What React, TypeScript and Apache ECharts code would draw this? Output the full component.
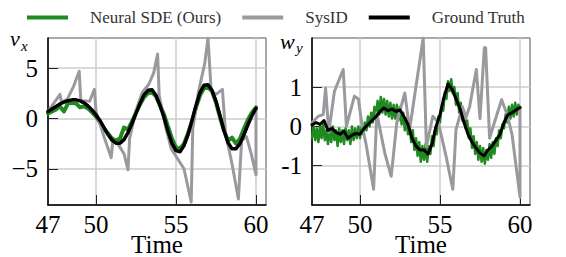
import React, { useEffect, useRef } from "react";
import * as echarts from "echarts";

const legendNames = ["Neural SDE (Ours)", "SysID", "Ground Truth"];
const xTickValues = [47, 50, 55, 60];
const xGridValues = [50, 55, 60];
const leftYTicks = [-5, 0, 5];
const rightYTicks = [-1, 0, 1];

// Left panel (v_x), sampled every 0.25 from 47 to 60
const vxTruth = [
  0.7, 0.95, 1.2, 1.45, 1.62, 1.77, 1.85, 1.85, 1.75, 1.55, 1.25, 0.85, 0.35,
  -0.2, -0.9, -1.6, -2.15, -2.45, -2.45, -2.1, -1.4, -0.5, 0.5, 1.5, 2.35, 2.8,
  2.85, 2.3, 1.3, 0.1, -1.3, -2.5, -3.2, -3.3, -2.7, -1.6, -0.2, 1.3, 2.6, 3.3,
  3.35, 2.8, 1.7, 0.3, -1.2, -2.4, -3.0, -3.0, -2.5, -1.6, -0.6, 0.3, 1.0,
];
const vxNeural = [
  0.5, 0.7, 0.9, 1.2, 0.7, 1.5, 1.55, 1.5, 1.1, 1.2, 1.0, 0.6, 0.2, -0.4, -1.0,
  -1.5, -2.0, -2.2, -2.0, -0.9, -1.1, -0.3, 0.6, 1.4, 2.1, 2.5, 2.6, 2.2, 1.3,
  0.4, -0.8, -2.0, -2.9, -3.0, -2.5, -1.5, -0.3, 1.1, 2.3, 3.0, 3.1, 2.7, 1.6,
  0.1, -1.2, -2.2, -1.9, -2.5, -2.0, -1.0, -0.1, 0.6, 1.1,
];
const vxSysId: [number, number][] = [
  [47, 0.7], [47.4, 1.6], [47.75, 2.4], [47.85, 1.6], [48.2, 1.9], [48.6, 3.2],
  [48.95, 4.7], [49.05, 1.8], [49.6, 1.7], [49.9, 2.9], [50.0, 0.7],
  [50.5, -1.8], [50.95, -3.9], [51.05, -2.2], [51.4, -2.6], [51.75, -3.5],
  [52.0, -5.1], [52.1, -2.0], [52.5, 0.8], [52.9, 2.6], [53.3, 3.4],
  [53.6, 4.5], [53.85, 6.4], [53.95, 2.3], [54.3, -0.5], [54.7, -3.0],
  [55.1, -4.0], [55.5, -5.0], [55.95, -8.3], [56.05, -1.0], [56.4, 2.6],
  [56.8, 5.5], [57.0, 8.0], [57.2, 2.7], [57.5, 2.4], [57.9, 2.9],
  [58.1, -1.5], [58.5, -4.5], [58.9, -8.0], [59.1, -2.2], [59.4, -1.8],
  [59.7, -3.5], [60.0, -5.6], [60.0, 1.0],
];

// Right panel (w_y)
const wyTruth = [
  0.04, 0.1, 0.05, 0.15, -0.1, -0.05, -0.15, -0.2, -0.12, -0.3, -0.22, -0.18,
  -0.2, -0.05, 0.05, 0.15, 0.25, 0.38, 0.47, 0.4, 0.44, 0.38, 0.42, 0.25, 0.05,
  -0.3, -0.5, -0.6, -0.6, -0.7, -0.45, 0.0, 0.3, 0.75, 1.08, 0.95, 0.7, 0.45,
  0.1, -0.2, -0.4, -0.55, -0.68, -0.75, -0.6, -0.5, -0.35, -0.2, 0.1, 0.3, 0.35,
  0.42, 0.48,
];
// sampled every 0.1 from 47 to 60
const wyNeural = [
  -0.3, 0.0, -0.35, -0.05, -0.4, 0.0, -0.3, 0.05, -0.35, -0.1,
  -0.45, -0.05, -0.4, 0.0, -0.35, -0.1, -0.5, -0.05, -0.4, -0.1,
  -0.45, -0.05, -0.35, -0.1, -0.45, 0.0, -0.35, -0.05, -0.3, 0.0,
  -0.3, 0.0, -0.2, 0.1, -0.1, 0.25, 0.0, 0.35, 0.1, 0.5,
  0.2, 0.65, 0.3, 0.75, 0.35, 0.7, 0.3, 0.65, 0.25, 0.6,
  0.2, 0.55, 0.2, 0.55, 0.15, 0.5, 0.05, 0.35, -0.1, 0.2,
  -0.2, 0.05, -0.4, -0.1, -0.6, -0.3, -0.75, -0.4, -0.9, -0.5,
  -0.85, -0.45, -0.9, -0.5, -0.7, -0.25, -0.5, -0.05, -0.2, 0.25,
  0.1, 0.5, 0.4, 0.85, 0.7, 1.15, 0.9, 1.2, 0.85, 1.0,
  0.55, 0.85, 0.35, 0.6, 0.15, 0.4, -0.05, 0.15, -0.3, -0.05,
  -0.55, -0.25, -0.7, -0.4, -0.85, -0.5, -0.9, -0.55, -0.95, -0.6,
  -0.85, -0.45, -0.8, -0.4, -0.7, -0.3, -0.5, -0.1, -0.3, 0.05,
  -0.05, 0.3, 0.1, 0.5, 0.2, 0.55, 0.25, 0.6, 0.3, 0.55,
  0.45,
];
const wySysId: [number, number][] = [
  [47, 0.1], [47.4, 0.26], [47.7, 0.3], [47.85, 0.98], [48.05, -0.15],
  [48.4, 0.89], [48.95, 1.45], [49.15, 0.0], [49.65, 0.77], [49.9, 0.7],
  [50.1, 0.1], [50.4, -0.5], [50.85, -1.6], [51.05, 0.34], [51.55, -0.68],
  [51.95, -1.27], [52.3, 0.1], [52.8, 0.85], [53.1, -0.08], [53.5, 1.02],
  [53.95, 2.25], [54.15, -0.51], [54.55, 0.26], [54.9, 0.1], [55.4, -0.8],
  [55.8, -1.6], [56.0, -0.08], [56.4, 0.5], [56.6, 0.2], [56.85, 0.5],
  [57.27, 1.45], [57.5, 0.2], [57.77, 2.0], [57.85, 2.0], [58.1, -0.3],
  [58.4, 0.1], [58.85, 0.68], [59.2, 0.3], [59.5, -0.2], [60.0, -1.8],
  [60.0, 0.5],
];

const stepTimes = (start: number, step: number, n: number) =>
  Array.from({ length: n }, (_, i) => +(start + i * step).toFixed(3));
const zip = (ts: number[], vs: number[]) => vs.map((v, i) => [ts[i], v]);

const GREEN = "#1f8a1f";
const GRAY = "#9a9a9e";
const BLACK = "#000000";
const SERIF = "Liberation Serif";

export default function App() {
  const ref = useRef<HTMLDivElement>(null);
  useEffect(() => {
    if (!ref.current) return;
    const chart = echarts.init(ref.current, undefined, { renderer: "svg" });
    const t25 = stepTimes(47, 0.25, vxTruth.length);
    const t10 = stepTimes(47, 0.1, wyNeural.length);

    const grids = [
      { left: 48, top: 38, width: 218, height: 167 },
      { left: 312, top: 38, width: 218, height: 167 },
    ].map((g) => ({
      ...g,
      show: true,
      borderColor: "#555",
      borderWidth: 1,
      containLabel: false,
      outerBoundsMode: "none",
    }));

    const makeX = (gi: number) => ({
      type: "value",
      gridIndex: gi,
      min: 47,
      max: 60.625,
      name: "Time",
      nameLocation: "middle",
      nameGap: 30,
      nameMoveOverlap: false,
      nameTextStyle: { fontFamily: SERIF, fontSize: 25, lineHeight: 18, color: "#000" },
      axisLine: { show: true, onZero: false, lineStyle: { color: "#000", width: 1.5 } },
      axisTick: {
        show: true,
        inside: true,
        length: 10,
        customValues: xGridValues,
        lineStyle: { color: "#222", width: 1 },
      },
      axisLabel: {
        customValues: xTickValues,
        fontFamily: SERIF,
        fontSize: 25,
        lineHeight: 18,
        color: "#000",
        margin: 10.5,
      },
      splitLine: { show: true, lineStyle: { color: "#cccccc", width: 1.5 } },
    });

    const makeY = (gi: number, min: number, max: number, ticks: number[], minusSign: boolean) => ({
      type: "value",
      gridIndex: gi,
      min,
      max,
      axisLine: { show: true, onZero: false, lineStyle: { color: "#000", width: 1.5 } },
      axisTick: {
        show: true,
        inside: true,
        length: 10,
        customValues: ticks,
        lineStyle: { color: "#222", width: 1 },
      },
      axisLabel: {
        customValues: ticks,
        fontFamily: SERIF,
        fontSize: 25,
        color: "#000",
        margin: 10,
        formatter: (v: number) =>
          v < 0 ? (minusSign ? "\u2212" : "-") + Math.abs(v) : String(v),
      },
      splitLine: { show: true, lineStyle: { color: "#cccccc", width: 1.5 } },
    });

    const line = (name: string, gi: number, data: any, color: string, width: number, z: number) => ({
      type: "line",
      name,
      xAxisIndex: gi,
      yAxisIndex: gi,
      data,
      showSymbol: false,
      symbol: "none",
      color,
      z,
      lineStyle: { color, width, join: "round", cap: "round" },
    });

    chart.setOption({
      animation: false,
      legend: {
        left: 22,
        top: 4,
        itemWidth: 41,
        itemHeight: 4,
        itemGap: 21,
        icon: "rect",
        data: legendNames,
        textStyle: {
          fontFamily: SERIF,
          fontSize: 17,
          color: "#333",
          padding: [0, 0, 0, 17],
        },
      },
      grid: grids,
      xAxis: [makeX(0), makeX(1)],
      yAxis: [
        makeY(0, -8.6, 8, leftYTicks, true),
        makeY(1, -2, 2.25, rightYTicks, false),
      ],
      series: [
        line(legendNames[0], 0, zip(t25, vxNeural), GREEN, 4, 2),
        line(legendNames[1], 0, vxSysId, GRAY, 3, 3),
        line(legendNames[2], 0, zip(t25, vxTruth), BLACK, 3.5, 4),
        line(legendNames[0], 1, zip(t10, wyNeural), GREEN, 2.5, 2),
        line(legendNames[1], 1, wySysId, GRAY, 3, 3),
        line(legendNames[2], 1, zip(t25, wyTruth), BLACK, 3, 4),
      ],
      graphic: [
        { type: "text", x: 10, y: 38.5, style: { text: "v", fontFamily: SERIF, fontStyle: "italic", fontSize: 22, fill: "#000", verticalAlign: "middle" } },
        { type: "text", x: 21, y: 45.5, style: { text: "x", fontFamily: SERIF, fontStyle: "italic", fontSize: 15, fill: "#000", verticalAlign: "middle" } },
        { type: "text", x: 280, y: 41.7, style: { text: "w", fontFamily: SERIF, fontStyle: "italic", fontSize: 22, fill: "#000", verticalAlign: "middle" } },
        { type: "text", x: 296, y: 47.5, style: { text: "y", fontFamily: SERIF, fontStyle: "italic", fontSize: 15, fill: "#000", verticalAlign: "middle" } },
      ],
    });
    return () => chart.dispose();
  }, []);
  return <div ref={ref} style={{ width: 566, height: 257, position: "absolute", left: 0, top: 0 }} />;
}
